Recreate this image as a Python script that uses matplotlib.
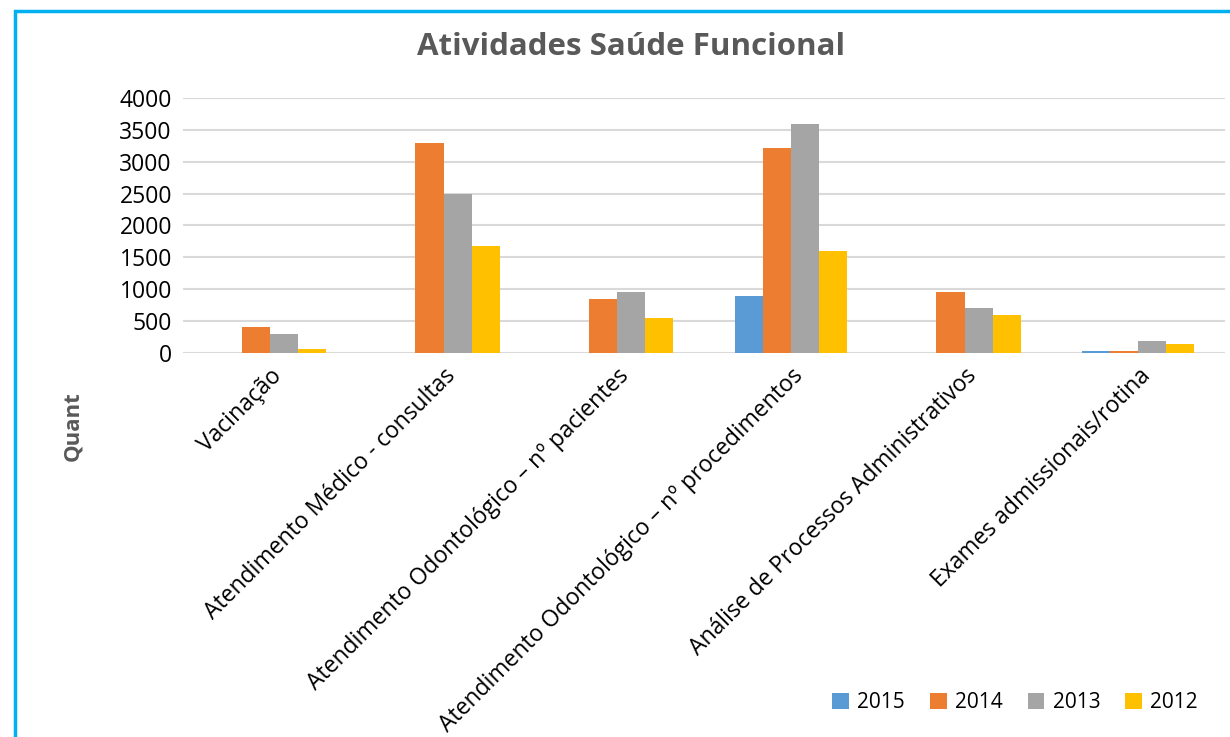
import matplotlib
matplotlib.use("Agg")
import matplotlib.pyplot as plt
from matplotlib.patches import Rectangle
import numpy as np

plt.rcParams['font.family'] = ['Open Sans', 'DejaVu Sans']

categories = [
    "Vacinação",
    "Atendimento Médico - consultas",
    "Atendimento Odontológico – nº pacientes",
    "Atendimento Odontológico – nº procedimentos",
    "Análise de Processos Administrativos",
    "Exames admissionais/rotina",
]
years = ["2015", "2014", "2013", "2012"]
v2015 = [0, 0, 0, 900, 0, 30]
v2014 = [400, 3300, 850, 3220, 960, 30]
v2013 = [300, 2500, 960, 3600, 700, 190]
v2012 = [60, 1680, 550, 1600, 600, 140]
colors = ["#5B9BD5", "#ED7D31", "#A5A5A5", "#FFC000"]

fig = plt.figure(figsize=(12.3, 7.37), dpi=100)
ax = fig.add_axes([183/1230, 1 - 353/737, 1042/1230, 255/737])

x = np.arange(len(categories))
w = 0.162
for i, (vals, yr) in enumerate(zip([v2015, v2014, v2013, v2012], years)):
    ax.bar(x + (i - 1.5) * w, vals, w, color=colors[i], label=yr, zorder=3)

ax.set_xlim(-0.5, len(categories) - 0.5)
ax.set_ylim(0, 4000)
ax.set_yticks(range(0, 4001, 500))
ax.yaxis.grid(True, color="#D9D9D9", linewidth=1.5, zorder=0)
ax.set_axisbelow(True)
for s in ax.spines.values():
    s.set_visible(False)
ax.tick_params(axis="both", length=0, colors="#000000")
ax.tick_params(axis="y", pad=8, labelsize=16.5)
ax.set_xticks(x)
ax.set_xticklabels(categories, rotation=45, ha="right", rotation_mode="anchor", fontsize=16.5)
ax.tick_params(axis="x", pad=8)

fig.text(631/1230, 1 - 47/737, "Atividades Saúde Funcional", ha="center", va="center",
         fontsize=22.5, fontweight="bold", color="#595959")
fig.text(73/1230, 1 - 426/737, "Quant", ha="center", va="center", rotation=90,
         fontsize=16, fontweight="bold", color="#595959")

ax.legend(loc="center", bbox_to_anchor=(1015/1230, 1 - 703/737), bbox_transform=fig.transFigure,
          ncol=4, frameon=False, fontsize=15, handlelength=0.8, handleheight=0.8,
          handletextpad=0.4, columnspacing=1.2)

fig.patches.append(Rectangle((15/1230, -0.1), 1.2, 1 - 11/737 + 0.1, transform=fig.transFigure,
                             fill=False, edgecolor="#00B0F0", linewidth=2.5, zorder=10))

fig.savefig("out.png", dpi=100)
